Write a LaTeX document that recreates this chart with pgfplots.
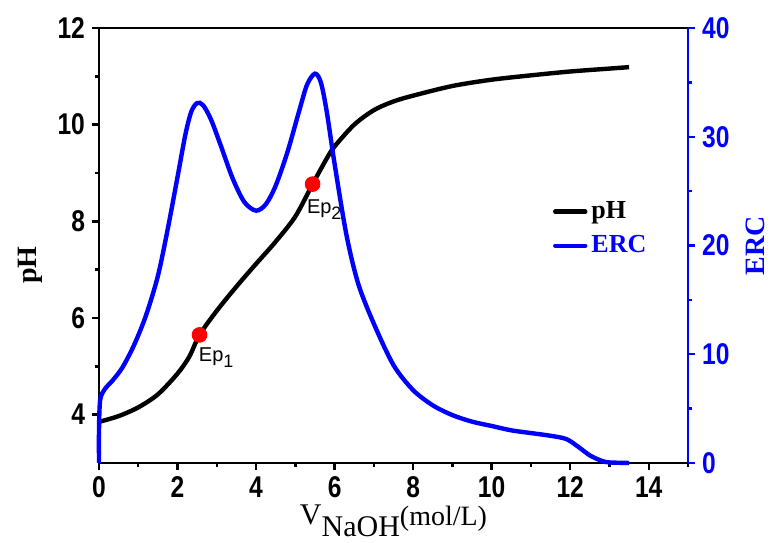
\documentclass[border=0pt]{standalone}
\usepackage{fontspec}
\setmainfont{Liberation Serif}
\newfontfamily\arial{Liberation Sans}
\newfontfamily\arialn[FakeStretch=0.82]{Liberation Sans}
\usepackage{pgfplots}
\pgfplotsset{compat=1.18}
\usetikzlibrary{calc}
\definecolor{ercblue}{RGB}{0,0,255}
\definecolor{epred}{RGB}{255,0,0}

\begin{document}
\begin{tikzpicture}
\pgfplotsset{
  every axis/.append style={
    width=294.5pt, height=217.5pt, scale only axis,
    xmin=0, xmax=15, clip=false,
    axis line style={line width=1.4pt},
    tick align=outside,
    major tick length=3.5pt, minor tick length=2pt,
    /pgf/number format/assume math mode=true,
    tick label style={font=\arialn\bfseries\fontsize{15}{17}\selectfont},
  }
}
% pH axis (left)
\begin{axis}[name=ph,
  ymin=3, ymax=12,
  ytick={4,6,8,10,12}, minor ytick={5,7,9,11},
  xtick={0,2,...,14}, minor xtick={1,3,...,15},
  xtick pos=left, ytick pos=left,
  tick style={line width=1.2pt, black},
  xlabel={V\raisebox{-6pt}{NaOH}\raisebox{-0.5pt}{\fontsize{14}{16}\selectfont(mol/L)}},
  xlabel style={font=\fontsize{15}{17}\selectfont, at={(axis description cs:0.5,0)}, anchor=base, yshift=-31pt},
  ylabel={pH},
  ylabel style={font=\bfseries\fontsize{14}{16}\selectfont, at={(axis description cs:-0.117,0.455)}, anchor=center},
]
\addplot[black, line width=2.2pt, smooth] coordinates {
  (0,3.85) (0.5,3.97) (1.0,4.15) (1.5,4.42) (2.0,4.85) (2.3,5.2) (2.56,5.65)
  (3.0,6.15) (3.5,6.65) (4.0,7.12) (4.5,7.58) (5.0,8.1) (5.44,8.77) (5.8,9.3)
  (6.0,9.55) (6.5,10.0) (7.0,10.3) (7.5,10.48) (8.0,10.6) (9.0,10.8)
  (10.0,10.93) (11.0,11.02) (12.0,11.1) (13.0,11.16) (13.5,11.19)
};
\addplot[only marks, mark=*, mark size=3.7pt, color=epred] coordinates {(2.56,5.65) (5.44,8.77)};
\node[anchor=north west, inner sep=0, font=\arial\fontsize{10}{12}\selectfont]
  at (axis cs:2.56,5.65) [xshift=-0.5pt, yshift=-6pt] {Ep\raisebox{-3pt}{\fontsize{9}{10}\selectfont 1}};
\node[anchor=north west, inner sep=0, font=\arial\fontsize{10}{12}\selectfont]
  at (axis cs:5.44,8.77) [xshift=-3pt, yshift=-7.5pt] {Ep\raisebox{-3pt}{\fontsize{9}{10}\selectfont 2}};
\end{axis}

% ERC axis (right)
\begin{axis}[
  ymin=0, ymax=40,
  ytick={0,10,...,40}, minor ytick={5,15,25,35},
  axis y line*=right, axis x line=none,
  y axis line style={ercblue, line width=1.4pt},
  tick style={line width=1.2pt, ercblue},
  yticklabel style={ercblue},
  ylabel={ERC},
  ylabel style={font=\bfseries\fontsize{14}{16}\selectfont, text=ercblue, at={(axis description cs:1.114,0.5)}, anchor=center},
  legend style={draw=none, fill=none, at={(axis description cs:0.76,0.62)}, anchor=north west,
    font=\bfseries\fontsize{13}{15}\selectfont, row sep=3pt},
  legend cell align=left,
  legend image code/.code={\draw[#1, line cap=round] (0pt,0pt) -- (15pt,0pt);},
]
\addlegendimage{black, line width=2.2pt}
\addlegendentry{pH}
\addplot[ercblue, line width=2.2pt, smooth] coordinates {
  (0,0) (0,3) (0.03,5.8) (0.15,6.8) (0.35,7.6) (0.6,8.8) (0.9,10.9) (1.2,13.6)
  (1.5,17.2) (1.75,21.5) (2.0,26.3) (2.2,30.2) (2.35,32.3) (2.5,33.1) (2.65,32.9)
  (2.85,31.6) (3.1,29.2) (3.4,26.2) (3.7,24.0) (4.0,23.2) (4.25,23.8)
  (4.5,25.5) (4.8,28.6) (5.1,32.4) (5.3,34.8) (5.5,35.8) (5.65,35.0)
  (5.8,32.3) (6.0,27.5) (6.3,21) (6.6,16.5) (7.0,12.8) (7.5,9.0) (8.0,6.7)
  (8.5,5.3) (9.0,4.4) (9.5,3.8) (10.0,3.4) (10.5,3.0) (11.0,2.75)
  (11.5,2.5) (11.9,2.2) (12.2,1.5) (12.5,0.7) (12.8,0.2) (13.0,0.05) (13.5,0)
};
\addlegendentry{\textcolor{ercblue}{ERC}}
\end{axis}
\pgfresetboundingbox
\path[use as bounding box] ($(ph.south west)+(-49.5pt,-40pt)$) rectangle ($(ph.north east)+(41pt,14pt)$);
\end{tikzpicture}
\end{document}
